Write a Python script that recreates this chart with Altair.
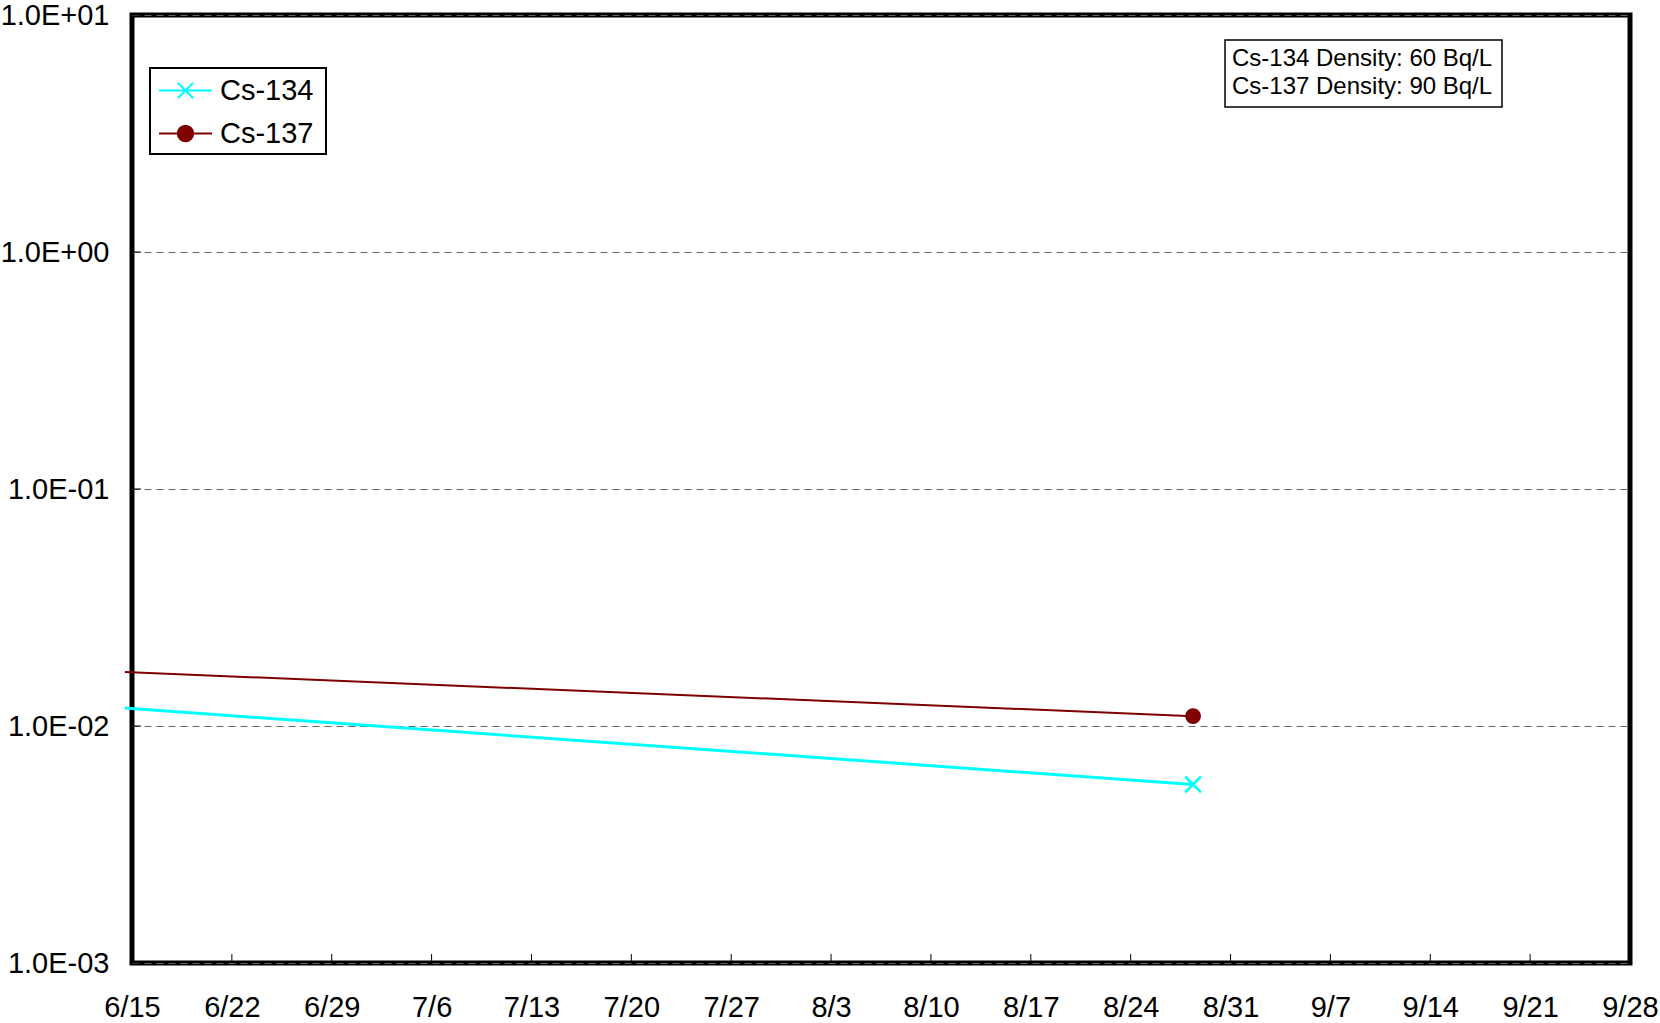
import altair as alt
import pandas as pd

# Measured concentrations (Bq/cm3) per nuclide
series_names = ["Cs-134", "Cs-137"]
sample_dates = ["2011-06-14T12:00:00Z", "2011-08-28T09:00:00Z"]
cs134_values = [0.0119, 0.00567]
cs137_values = [0.0169, 0.0110]

# Axis ticks
tick_dates = [
    "2011-06-15", "2011-06-22", "2011-06-29", "2011-07-06", "2011-07-13",
    "2011-07-20", "2011-07-27", "2011-08-03", "2011-08-10", "2011-08-17",
    "2011-08-24", "2011-08-31", "2011-09-07", "2011-09-14", "2011-09-21",
    "2011-09-28",
]
y_tick_values = [0.001, 0.01, 0.1, 1, 10]
y_tick_labels = ["1.0E-03", "1.0E-02", "1.0E-01", "1.0E+00", "1.0E+01"]

note_lines = ["Cs-134 Density: 60 Bq/L", "Cs-137 Density: 90 Bq/L"]

FONT = "Liberation Sans"
W, H = 1498, 948
colors = {"Cs-134": "#00FFFF", "Cs-137": "#800000"}
widths = {"Cs-134": 3, "Cs-137": 2}


def to_ms(s):
    ts = pd.Timestamp(s)
    if ts.tzinfo is None:
        ts = ts.tz_localize("UTC")
    return int(ts.timestamp() * 1000)


tick_ms = [to_ms(d) for d in tick_dates]

rows = []
for name, vals in zip(series_names, [cs134_values, cs137_values]):
    for d, v in zip(sample_dates, vals):
        rows.append({"series": name, "date": to_ms(d), "value": v})
df = pd.DataFrame(rows)
xticks_df = pd.DataFrame({"date": tick_ms})
yticks_df = pd.DataFrame({"value": y_tick_values})
one_row = pd.DataFrame({"k": [0]})

# y label expression: exponent notation
label_expr = ""
for v, lab in zip(y_tick_values, y_tick_labels):
    label_expr += f"datum.value < {v * 3} ? '{lab}' : "
label_expr += f"'{y_tick_labels[-1]}'"

x_axis = alt.Axis(
    values=tick_ms, labelExpr="utcFormat(datum.value, '%-m/%-d')",
    ticks=False, tickSize=0, domain=False, grid=False, labelPadding=30,
    labelFontSize=29, labelFont=FONT, labelColor="black", title=None,
    labelOverlap=False, labelFlush=False,
)
y_axis = alt.Axis(
    values=y_tick_values, labelExpr=label_expr, grid=True, gridDash=[7, 5],
    gridColor="#666666", gridWidth=1, ticks=False, tickSize=0, domain=False,
    labelPadding=23, labelFontSize=29, labelFont=FONT, labelColor="black",
    title=None, labelOverlap=False, labelFlush=False,
)
x_scale = alt.Scale(type="utc", domain=[tick_ms[0], tick_ms[-1]], nice=False)
y_scale = alt.Scale(type="log", domain=[0.001, 10], nice=False)


def X(field="date"):
    return alt.X(f"{field}:T", scale=x_scale, axis=x_axis)


def Y(field="value"):
    return alt.Y(f"{field}:Q", scale=y_scale, axis=y_axis)


# inward tick marks
x_ticks = alt.Chart(xticks_df).mark_rule(color="black", strokeWidth=1).encode(
    x=X(), y=alt.value(H - 9), y2=alt.value(H)
)
y_ticks = alt.Chart(yticks_df).mark_rule(color="black", strokeWidth=1).encode(
    y=Y(), x=alt.value(0), x2=alt.value(9)
)

layers = [x_ticks, y_ticks]
for name in series_names:
    layers.append(
        alt.Chart(df).transform_filter(alt.datum.series == name)
        .mark_line(color=colors[name], strokeWidth=widths[name], clip=False)
        .encode(x=X(), y=Y())
    )

x_path = "M-1,-1L1,1M-1,1L1,-1"
in_range = f"datum.date >= {tick_ms[0]}"
layers.append(
    alt.Chart(df).transform_filter(alt.datum.series == "Cs-134").transform_filter(in_range)
    .mark_point(shape=x_path, size=250, stroke=colors["Cs-134"], strokeWidth=2.5,
                filled=False, opacity=1)
    .encode(x=X(), y=Y())
)
layers.append(
    alt.Chart(df).transform_filter(alt.datum.series == "Cs-137").transform_filter(in_range)
    .mark_point(shape="circle", size=250, filled=True, color=colors["Cs-137"], opacity=1)
    .encode(x=X(), y=Y())
)

# legend frame
layers.append(
    alt.Chart(one_row).mark_rect(fill="white", stroke="black", strokeWidth=2).encode(
        x=alt.value(18), x2=alt.value(194), y=alt.value(53), y2=alt.value(139)
    )
)
# density note
layers.append(
    alt.Chart(one_row).mark_rect(fill="white", stroke="black", strokeWidth=1.5).encode(
        x=alt.value(1093), x2=alt.value(1370), y=alt.value(25), y2=alt.value(92)
    )
)
for i, line in enumerate(note_lines):
    layers.append(
        alt.Chart(one_row).mark_text(
            text=line, font=FONT, fontSize=24, align="left", baseline="middle", color="black"
        ).encode(x=alt.value(1100), y=alt.value(44 + 28 * i))
    )

# legend symbols: a line segment with the series marker
leg_paths = [
    "M-1,0L1,0M-0.29,-0.29L0.29,0.29M-0.29,0.29L0.29,-0.29",
    "M-1,0L1,0M0.29,0A0.29,0.29 0 1,1 -0.29,0A0.29,0.29 0 1,1 0.29,0Z",
]
leg = alt.Legend(
    title=None, orient="none", legendX=26, legendY=48, padding=0,
    labelFont=FONT, labelFontSize=29, labelColor="black", labelOffset=7,
    rowPadding=0, symbolSize=2809, symbolStrokeWidth=2,
)
palette = alt.Scale(domain=series_names, range=[colors[n] for n in series_names])
legend_layer = (
    alt.Chart(df).transform_filter("false")
    .mark_point(filled=True, strokeWidth=2, opacity=1)
    .encode(
        x=X(), y=Y(),
        fill=alt.Fill("series:N", scale=palette, legend=leg),
        stroke=alt.Stroke("series:N", scale=palette, legend=leg),
        shape=alt.Shape("series:N", scale=alt.Scale(domain=series_names, range=leg_paths), legend=leg),
    )
)
layers.append(legend_layer)

chart = (
    alt.layer(*layers)
    .properties(
        width=W, height=H, autosize="none",
        padding={"left": 132, "top": 15, "right": 30, "bottom": 60},
        background="white",
    )
    .configure_view(stroke="black", strokeWidth=5, fill="white")
)

chart.save("out.html", embed_options={"renderer": "svg", "actions": False})
